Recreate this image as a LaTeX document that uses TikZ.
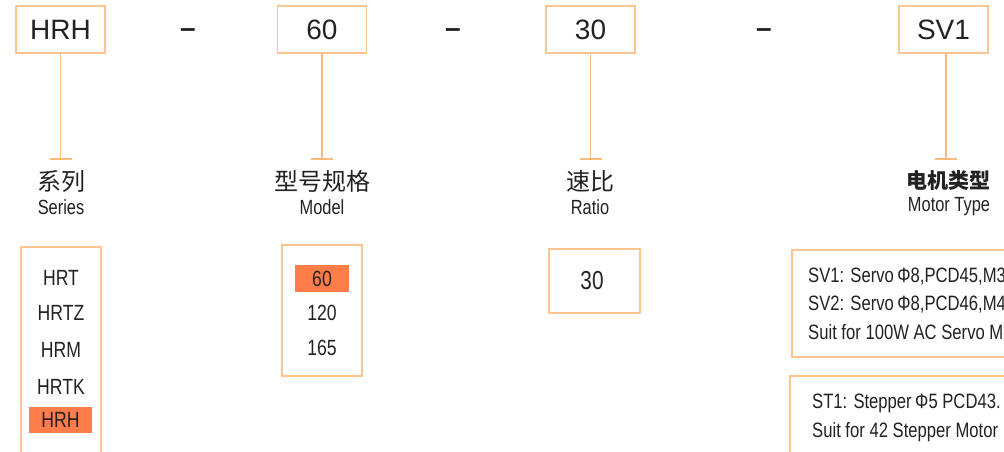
\documentclass[tikz,border=0pt]{standalone}
\usepackage{fontspec}
\setmainfont{Liberation Sans}
\newfontfamily\narrowfont[FakeStretch=0.8]{Liberation Sans}
\newfontfamily\cjk{Noto Sans CJK SC}
\usetikzlibrary{arrows.meta}

\definecolor{boxline}{HTML}{FFC58E}
\definecolor{stemline}{HTML}{FFBB7C}
\definecolor{hifill}{HTML}{FF7D4B}
\definecolor{ink}{HTML}{222222}

\tikzset{
  codebox/.style={draw=boxline, line width=1.5pt, minimum width=89pt, minimum height=47pt,
    inner sep=0pt, text=ink, font=\fontsize{28}{30}\selectfont},
  optbox/.style={draw=boxline, line width=1.5pt, inner sep=0pt},
  item/.style={text=ink, inner sep=0pt, font=\narrowfont\fontsize{22}{24}\selectfont},
  hilite/.style={item, fill=hifill},
  spec/.style={item, anchor=west, font=\narrowfont\fontsize{20.8}{23}\selectfont},
  zhlabel/.style={text=ink, inner sep=0pt, font=\cjk\fontsize{24}{26}\selectfont},
  enlabel/.style={text=ink, inner sep=0pt, font=\narrowfont\fontsize{20.5}{22}\selectfont},
  stem/.style={draw=stemline, line width=1.5pt, -{Bar[width=22pt,line width=2pt]}},
  sep/.style={text=ink, inner sep=0pt, font=\bfseries\fontsize{28}{30}\selectfont}
}

\begin{document}
\begin{tikzpicture}[x=1pt, y=-1pt]
    \clip (0,0) rectangle (1004,451);
    \fill[white] (0,0) rectangle (1004,451);

    % code boxes
    \node[codebox] (series) at (60.5,29.5) {HRH};
    \node[codebox] (model) at (322,29.5) {60};
    \node[codebox] (ratio) at (590.5,29.5) {30};
    \node[codebox] (motor) at (943.5,29.5) {SV1};

    \node[sep] (d1) at (188,33) {–};
    \node[sep] (d2) at (453,33) {–};
    \node[sep] (d3) at (764,33) {–};

    % stems
    \coordinate (tseries) at (60.5,160);
    \coordinate (tmodel) at (322,160);
    \coordinate (tratio) at (590.5,160);
    \coordinate (tmotor) at (946,160);
    \draw[stem] (series.south) -- (tseries);
    \draw[stem] (model.south) -- (tmodel);
    \draw[stem] (ratio.south) -- (tratio);
    \draw[stem] (motor.south -| tmotor) -- (tmotor);

    % labels
    \node[zhlabel] (zhseries) at (61,181) {系列};
    \node[enlabel] (enseries) at (61,207) {Series};
    \node[zhlabel] (zhmodel) at (322,181) {型号规格};
    \node[enlabel] (enmodel) at (322,207) {Model};
    \node[zhlabel] (zhratio) at (590,181) {速比};
    \node[enlabel] (enratio) at (590,207) {Ratio};
    \node[zhlabel, font=\cjk\bfseries\fontsize{21}{24}\selectfont] (zhmotor) at (948,181) {电机类型};
    \node[enlabel] (enmotor) at (949,207) {Motor Type};

    % option boxes
    \node[optbox, minimum width=80pt, minimum height=222pt] (serlist) at (61,358) {};
    \node[item] (o1) at (61,278) {HRT};
    \node[item] (o2) at (61,313) {HRTZ};
    \node[item] (o3) at (61,350) {HRM};
    \node[item] (o4) at (61,387) {HRTK};
    \node[hilite, minimum width=63pt, minimum height=26pt] (o5) at (60.5,420) {HRH};

    \node[optbox, minimum width=80pt, minimum height=131pt] (modlist) at (322,310.5) {};
    \node[hilite, minimum width=54pt, minimum height=27pt] (m1) at (322,278.5) {60};
    \node[item] (m2) at (322,313) {120};
    \node[item] (m3) at (322,348) {165};

    \node[optbox, minimum width=91pt, minimum height=64pt] (ratlist) at (594.5,281) {};
    \node[item, font=\narrowfont\fontsize{26}{28}\selectfont] (r1) at (592,281) {30};

    \node[optbox, minimum width=300pt, minimum height=107pt] (svlist) at (942,303.5) {};
    \node[spec] (s1) at (808,277) {SV1: Servo\,Φ8,PCD45,M3};
    \node[spec] (s2) at (808,305) {SV2: Servo\,Φ8,PCD46,M4};
    \node[spec] (s3) at (808,332) {Suit for 100W AC Servo Motor};

    \node[optbox, minimum width=300pt, minimum height=104pt] (stlist) at (940,428) {};
    \node[spec] (t1) at (812,403) {ST1: Stepper\,Φ5 PCD43.};
    \node[spec] (t2) at (812,432) {Suit for 42 Stepper Motor};
\end{tikzpicture}
\end{document}
